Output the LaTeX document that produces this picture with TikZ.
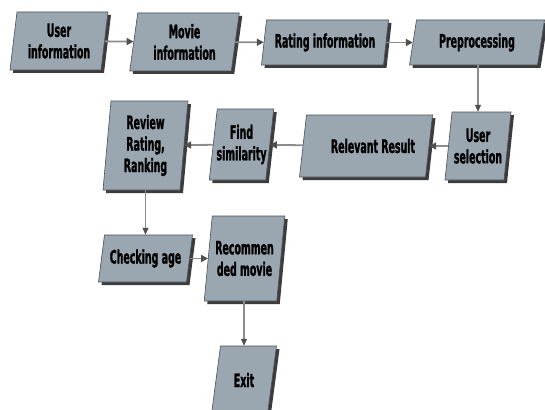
\documentclass[tikz,border=0pt]{standalone}
\usepackage{fontspec}
\setmainfont{DejaVu Sans}[FakeStretch=0.51, BoldFeatures={FakeBold=1.2}]
\usetikzlibrary{calc,arrows.meta}
\definecolor{boxfill}{HTML}{9AA7B0}
\definecolor{boxline}{HTML}{4A4F55}
\definecolor{shadowc}{HTML}{3C3C3C}
\definecolor{arrowc}{HTML}{8C8C8C}
\definecolor{tipc}{HTML}{505050}
\tikzset{
  boxtext/.style={align=center, inner sep=0pt, text=black, font=\bfseries\fontsize{18.5}{21.5}\selectfont},
  arr/.style={draw=arrowc, line width=1.8pt, -{Triangle[length=7pt,width=7pt,color=tipc]}},
  arrthin/.style={draw=arrowc, line width=1.1pt, -{Triangle[length=7pt,width=6pt,color=tipc]}},
}
% name, cx, cy, w, h, slant, text
\newcommand\pbox[7]{%
  \fill[shadowc] ({#2-#4/2+#6/2+3},{#3-#5/2+3}) -- ({#2+#4/2+#6/2+3},{#3-#5/2+3}) -- ({#2+#4/2-#6/2+3},{#3+#5/2+3}) -- ({#2-#4/2-#6/2+3},{#3+#5/2+3}) -- cycle;
  \filldraw[fill=boxfill, draw=boxline, line width=0.6pt] ({#2-#4/2+#6/2},{#3-#5/2}) -- ({#2+#4/2+#6/2},{#3-#5/2}) -- ({#2+#4/2-#6/2},{#3+#5/2}) -- ({#2-#4/2-#6/2},{#3+#5/2}) -- cycle;
  \node[boxtext, minimum width=#4pt, minimum height=#5pt] (#1) at (#2,#3) {#7};
}
\begin{document}
\begin{tikzpicture}[x=1pt,y=-1pt]
\useasboundingbox (0,0) rectangle (545,409);
\fill[white] (0,0) rectangle (545,409);
\clip (0,0) rectangle (545,409);
\pbox{ui}{59}{41}{91}{58}{7}{User\\information}
\pbox{mi}{184.5}{42}{101.5}{58}{8}{Movie\\information}
\pbox{ri}{325}{42.5}{122}{45}{5}{Rating information}
\pbox{pre}{477}{42.5}{128}{45}{7}{Preprocessing}
\pbox{us}{478}{146}{59}{68}{7}{User\\selection}
\pbox{rr}{366}{146}{126}{62}{7}{\hspace*{14pt}Relevant Result}
\pbox{fs}{241.5}{144.5}{56.5}{71}{8}{Find\\similarity}
\pbox{rv}{145.5}{145.5}{77}{89}{8}{Review\\Rating,\\Ranking}
\pbox{ca}{145.5}{258.5}{88}{47}{6}{Checking age}
\pbox{rm}{244.5}{258.5}{72.5}{85}{8}{Recommen\\ded movie}
\pbox{ex}{244}{380}{56}{68}{9}{Exit}
\draw[arr] (ui) -- (mi);
\draw[arr] (mi) -- (ri);
\draw[arr] (ri) -- (pre);
\draw[arrthin] (pre.south -| us.north) -- (us.north);
\draw[arr] (us) -- (rr);
\draw[arr] (rr) -- (fs);
\draw[arr] (fs) -- (rv);
\draw[arrthin] (rv.south -| ca.north) -- (ca.north);
\draw[arr] (ca) -- (rm);
\draw[arrthin] (rm.south -| ex.north) -- (ex.north);
\end{tikzpicture}
\end{document}
